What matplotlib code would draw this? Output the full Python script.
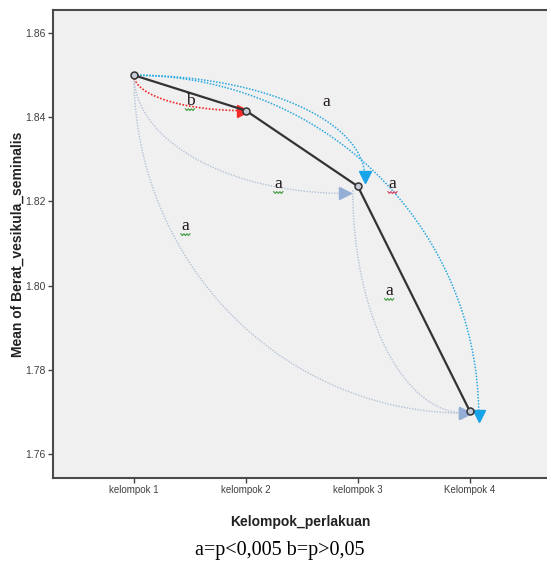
import matplotlib
matplotlib.use('Agg')
import matplotlib.pyplot as plt
import matplotlib.transforms as mtransforms
import numpy as np

# group means
groups = ['kelompok 1', 'kelompok 2', 'kelompok 3', 'Kelompok 4']
means = [1.8500, 1.8416, 1.8236, 1.7702]
y_ticks = [1.76, 1.78, 1.80, 1.82, 1.84, 1.86]

# pairwise comparisons drawn as arcs: (from group, to group)
arc_from = [0, 0, 0, 0, 0, 2]
arc_to = [1, 2, 3, 2, 3, 3]

# significance letters and where they sit
sig_labels = ['b', 'a', 'a', 'a', 'a', 'a']
sig_x = [1.50, 2.72, 2.29, 3.31, 1.46, 3.28]
sig_y = [1.8429, 1.8427, 1.8232, 1.8232, 1.8132, 1.7978]
squiggle_col = ['#3c9a3c', None, '#3c9a3c', '#d04060', '#3c9a3c', '#3c9a3c']

caption = 'a=p<0,005 b=p>0,05'

# arc styles: colour, which way the quarter-ellipse bends, start/end nudges (px)
RED = '#f42a2a'
CYAN = '#2aa9e0'
GREY = '#b4c2d6'
arc_col = [RED, GREY, GREY, CYAN, CYAN, GREY]
arc_head = [RED, '#95aed6', '#95aed6', '#18a4e8', '#18a4e8', '#95aed6']
arc_lw = [1.2, 1.0, 1.0, 1.1, 1.1, 1.0]
arc_ms = [8.5, 8, 8, 8, 8, 8]
arc_below = [True, True, True, False, False, True]
arc_start_px = [(0, 0), (0, 0), (0, 0), (0, 0), (0, 0), (-5, -4)]
arc_end_px = [(-3, 0), (-13, -7), (-5, -2), (7, 9), (9, -5), (-5, -2)]

fig = plt.figure(figsize=(5.47, 5.68), dpi=100)
fig.patch.set_facecolor('white')
ax_w = 1 - 53 / 547 + 0.01
ax = fig.add_axes([53 / 547, 90 / 568, ax_w, 468 / 568])
ax.set_facecolor('#f0f0f0')

x_pos = list(range(1, len(groups) + 1))

# axes span runs a little past the right edge of the picture, as in the source
ax.set_xlim(0.277, 4.69 + 0.01 * 547 / 112)
ax.set_ylim(1.7543, 1.8655)


def nudge(x, y, dx, dy):
    # move a data point by some display pixels
    px = ax.transData.transform((x, y)) + np.array([dx, dy])
    return ax.transData.inverted().transform(px)


theta = np.linspace(0, np.pi / 2, 120)
for i in range(len(arc_from)):
    a, b = arc_from[i], arc_to[i]
    x0, y0 = nudge(x_pos[a], means[a], *arc_start_px[i])
    x1, y1 = nudge(x_pos[b], means[b], *arc_end_px[i])
    if arc_below[i]:
        # drops first, then runs right into the target
        xs = x1 - (x1 - x0) * np.cos(theta)
        ys = y0 - (y0 - y1) * np.sin(theta)
        head = '>'
    else:
        # runs right first, then drops onto the target
        xs = x0 + (x1 - x0) * np.sin(theta)
        ys = y1 + (y0 - y1) * np.cos(theta)
        head = 'v'
    ax.plot(xs, ys, color=arc_col[i], lw=arc_lw[i], linestyle=(0, (1, 1)), zorder=2)
    ax.plot([x1], [y1], marker=head, ms=arc_ms[i], color=arc_head[i], mec=arc_head[i],
            linestyle='none', zorder=3)

ax.plot(x_pos, means, color='#333333', lw=1.6, marker='o', ms=5,
        mfc='#c8ccd8', mec='#333333', mew=1.1, zorder=4)

for lab, lx, ly, sc in zip(sig_labels, sig_x, sig_y, squiggle_col):
    ax.text(lx, ly, lab, family='Liberation Serif', fontsize=12.5, color='#1e1414',
            ha='center', va='baseline', zorder=5)
    if sc:
        tr = fig.dpi_scale_trans + mtransforms.ScaledTranslation(lx, ly, ax.transData)
        zx = [(-3.3 + 1.1 * k) / 72 for k in range(7)]
        zy = [(-2.6 - 1.3 * (k % 2)) / 72 for k in range(7)]
        ax.plot(zx, zy, color=sc, lw=0.8, transform=tr, clip_on=False, zorder=5)

ax.set_xticks(x_pos)
ax.set_xticklabels(groups)
ax.set_yticks(y_ticks)
ax.set_yticklabels([f'{v:.2f}' for v in y_ticks])
ax.tick_params(axis='both', direction='out', length=3.6, width=1, color='#444444',
               labelsize=7, labelcolor='#404040', pad=1.5)
ax.tick_params(axis='y', labelsize=7.5)
for lab in ax.get_xticklabels() + ax.get_yticklabels():
    lab.set_family('Liberation Sans')

for side in ['left', 'bottom', 'top']:
    ax.spines[side].set_color('#4a4a4a')
    ax.spines[side].set_linewidth(1.5)
ax.spines['right'].set_visible(False)

ax.set_xlabel('Kelompok_perlakuan', family='Liberation Sans', fontweight='bold',
              fontsize=10, color='#222222')
ax.xaxis.set_label_coords((300 - 53) / 547 / ax_w, -0.079)
ax.set_ylabel('Mean of Berat_vesikula_seminalis', family='Liberation Sans',
              fontweight='bold', fontsize=10, color='#222222')
ax.yaxis.set_label_coords(-0.057, 0.5)

fig.text(0.512, 1 - 551 / 568, caption, family='Liberation Serif', fontsize=14.5,
         ha='center', va='center', color='black')

fig.savefig('out.png', dpi=100)
